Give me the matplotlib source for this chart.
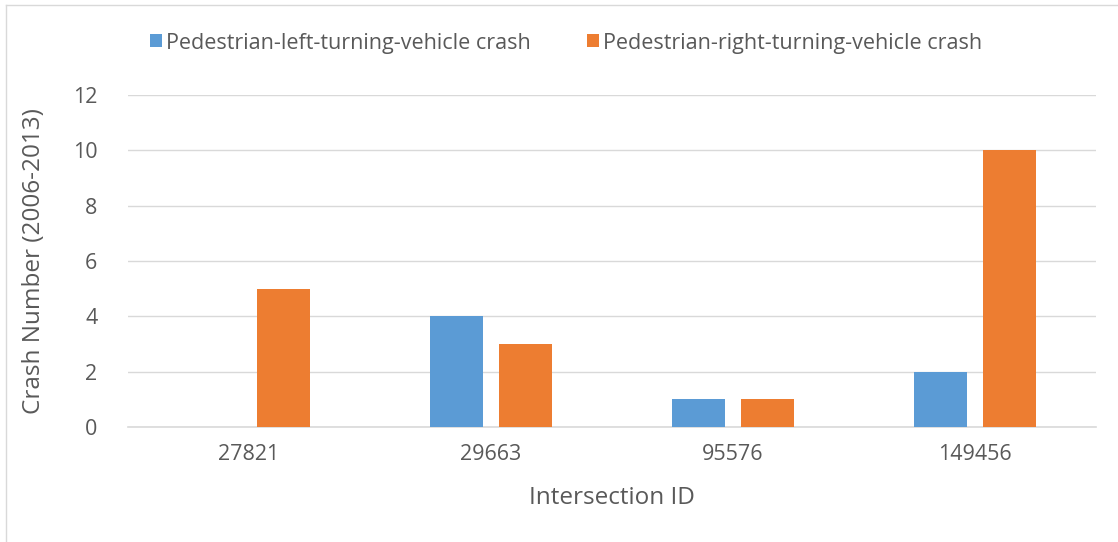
import numpy as np
import matplotlib.pyplot as plt
from matplotlib.lines import Line2D

# data
intersections = ['27821', '29663', '95576', '149456']
left_turn = [0, 4, 1, 2]
right_turn = [5, 3, 1, 10]
series_names = ['Pedestrian-left-turning-vehicle crash',
                'Pedestrian-right-turning-vehicle crash']

blue = '#5B9BD5'
orange = '#ED7D31'
txt = '#595959'

plt.rcParams['font.family'] = ['Open Sans', 'DejaVu Sans']

fig = plt.figure(figsize=(11.18, 5.42), dpi=100)
ax = fig.add_axes([128 / 1118, 1 - 427 / 542, 968 / 1118, 332 / 542])

x = np.arange(len(intersections))
w = 0.223
off = 0.1426
b1 = ax.bar(x - off, left_turn, w, color=blue, label=series_names[0], zorder=3)
b2 = ax.bar(x + off, right_turn, w, color=orange, label=series_names[1], zorder=3)

ax.set_xlim(-0.5, 3.5)
ax.set_ylim(0, 12)
ax.set_yticks(range(0, 13, 2))
ax.set_xticks(x)
ax.set_xticklabels(intersections)
ax.grid(axis='y', color='#D9D9D9', linewidth=1, zorder=0)
for s in ['top', 'right', 'left']:
    ax.spines[s].set_visible(False)
ax.spines['bottom'].set_color('#D9D9D9')
ax.spines['bottom'].set_linewidth(1.2)
ax.tick_params(length=0, labelsize=15.5, labelcolor=txt)
ax.tick_params(axis='x', pad=12)
ax.tick_params(axis='y', pad=22)

ax.set_xlabel('Intersection ID', fontsize=17.5, color=txt)
ax.xaxis.set_label_coords(0.5, -0.178)
ax.set_ylabel('Crash Number (2006-2013)', fontsize=17.5, color=txt)
ax.yaxis.set_label_coords(-0.085, 0.5)

fig.legend(handles=[b1, b2], loc='center', bbox_to_anchor=(566 / 1118, 1 - 43 / 542), ncol=2,
           frameon=False, fontsize=15.5, labelcolor=txt, handlelength=0.55,
           handleheight=0.55, handletextpad=0.2, columnspacing=2.6)

# chart border
fig.add_artist(Line2D([6 / 1118, 6 / 1118], [0, 1 - 5 / 542], color='#D9D9D9', lw=1))
fig.add_artist(Line2D([6 / 1118, 1], [1 - 5 / 542, 1 - 5 / 542], color='#D9D9D9', lw=1))

fig.savefig('out.png', dpi=100)
